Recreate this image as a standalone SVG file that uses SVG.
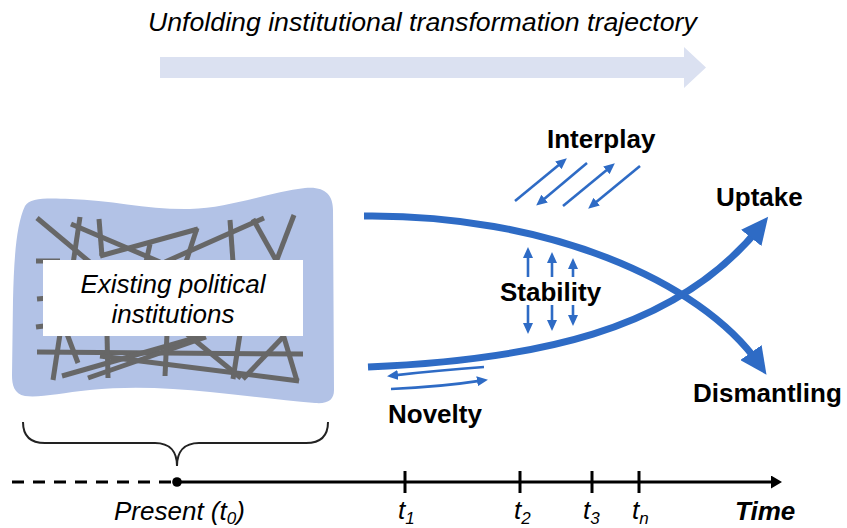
<svg xmlns="http://www.w3.org/2000/svg" width="847" height="528" viewBox="0 0 847 528">
  <style>
    .lbl { font-family: "Liberation Sans", Arial, sans-serif; font-size: 26px; fill: #000; }
    .b { font-weight: bold; }
    .i { font-style: italic; }
    .title { font-size: 26.7px; }
    .mesh line { stroke: #676767; stroke-width: 5; }
    .flow { fill: none; stroke: #2e6bc5; stroke-width: 7; }
    .small { fill: none; stroke: #2e6bc5; stroke-width: 2.6; }
    .axis { stroke: #000; stroke-width: 3; fill: none; }
  </style>
  <defs>
    <marker id="bigHead" markerUnits="userSpaceOnUse" markerWidth="28" markerHeight="26" refX="14" refY="13" orient="auto">
      <path d="M0,0 L27,13 L0,26 Z" fill="#2e6bc5"/>
    </marker>
    <marker id="smallHead" markerUnits="userSpaceOnUse" markerWidth="11" markerHeight="10" refX="6" refY="5" orient="auto">
      <path d="M0,0 L11,5 L0,10 Z" fill="#2e6bc5"/>
    </marker>
    <marker id="axisHead" markerUnits="userSpaceOnUse" markerWidth="11" markerHeight="13" refX="4" refY="6.5" orient="auto">
      <path d="M0,0 L11,6.5 L0,13 Z" fill="#000"/>
    </marker>
  </defs>

  <!-- trajectory banner -->
  <g id="trajectory">
    <text class="lbl i title" x="148" y="31">Unfolding institutional transformation trajectory</text>
    <polygon points="160,57 684,57 684,47 706,67.5 684,88 684,78 160,78" fill="#dbe1f1"/>
  </g>

  <!-- existing institutions cloud -->
  <g id="existing">
    <path d="M25,206 C30,198 45,198 70,199 C110,200 150,210 190,209 C230,208 270,192 305,188 C325,186 333,195 333,210 L334,390 C334,400 328,404 315,403 C285,401 250,396 210,392 C170,388 130,386 90,390 C60,393 40,398 25,396 C14,394 12,385 12,375 L13,300 C14,260 16,225 25,206 Z" fill="#b2c2e6"/>
    <g class="mesh">
      <line x1="37" y1="218" x2="92" y2="264"/>
      <line x1="80" y1="217" x2="73" y2="264"/>
      <line x1="71" y1="224" x2="160" y2="262"/>
      <line x1="99" y1="219" x2="102" y2="256"/>
      <line x1="100" y1="256" x2="198" y2="229"/>
      <line x1="197" y1="228" x2="186" y2="262"/>
      <line x1="150" y1="244" x2="146" y2="262"/>
      <line x1="165" y1="262" x2="264" y2="218"/>
      <line x1="230" y1="220" x2="233" y2="262"/>
      <line x1="253" y1="219" x2="277" y2="262"/>
      <line x1="294" y1="215" x2="276" y2="262"/>
      <line x1="36" y1="261" x2="60" y2="261"/>
      <line x1="37" y1="299" x2="60" y2="297"/>
      <line x1="36" y1="327" x2="60" y2="324"/>
      <line x1="37" y1="352" x2="303" y2="354"/>
      <line x1="60" y1="334" x2="53" y2="380"/>
      <line x1="67" y1="334" x2="78" y2="363"/>
      <line x1="107" y1="334" x2="108" y2="378"/>
      <line x1="62" y1="376" x2="202" y2="336"/>
      <line x1="88" y1="378" x2="206" y2="337"/>
      <line x1="100" y1="356" x2="299" y2="381"/>
      <line x1="167" y1="334" x2="165" y2="376"/>
      <line x1="187" y1="334" x2="241" y2="378"/>
      <line x1="240" y1="334" x2="233" y2="379"/>
      <line x1="243" y1="379" x2="284" y2="336"/>
      <line x1="283" y1="334" x2="297" y2="381"/>
    </g>
    <rect x="43" y="260" width="260" height="76" fill="#fff"/>
    <text class="lbl i" x="173" y="293" text-anchor="middle">Existing political</text>
    <text class="lbl i" x="173" y="323" text-anchor="middle">institutions</text>
  </g>

  <!-- connectors: pathways and dynamics -->
  <g id="connectors">
    <path class="flow" d="M364,216 C545,214 700,280 759,364" marker-end="url(#bigHead)"/>
    <path class="flow" d="M368,367 C530,360 675,333 760,227" marker-end="url(#bigHead)"/>

    <line class="small" x1="515" y1="201" x2="563" y2="161.5" marker-end="url(#smallHead)"/>
    <line class="small" x1="587" y1="163" x2="540" y2="202.4" marker-end="url(#smallHead)"/>
    <line class="small" x1="563" y1="206" x2="611" y2="166.5" marker-end="url(#smallHead)"/>
    <line class="small" x1="640" y1="166" x2="592" y2="205.5" marker-end="url(#smallHead)"/>

    <line class="small" x1="528" y1="277" x2="528" y2="252" marker-end="url(#smallHead)"/>
    <line class="small" x1="552" y1="277" x2="552" y2="257" marker-end="url(#smallHead)"/>
    <line class="small" x1="573" y1="277" x2="573" y2="263" marker-end="url(#smallHead)"/>
    <line class="small" x1="528" y1="305" x2="528" y2="329" marker-end="url(#smallHead)"/>
    <line class="small" x1="552" y1="305" x2="552" y2="326" marker-end="url(#smallHead)"/>
    <line class="small" x1="573" y1="305" x2="573" y2="321" marker-end="url(#smallHead)"/>

    <path class="small" d="M484,367 Q440,370 392,375.6" marker-end="url(#smallHead)"/>
    <path class="small" d="M391,389 Q440,387 483,380.4" marker-end="url(#smallHead)"/>
  </g>

  <!-- outcome and dynamic labels -->
  <g id="interplay"><text class="lbl b" x="547" y="148">Interplay</text></g>
  <g id="stability"><text class="lbl b" x="500" y="301">Stability</text></g>
  <g id="novelty"><text class="lbl b" x="388" y="423">Novelty</text></g>
  <g id="uptake"><text class="lbl b" x="716" y="206">Uptake</text></g>
  <g id="dismantling"><text class="lbl b" x="693" y="402">Dismantling</text></g>

  <!-- time axis -->
  <g id="timeline">
    <path d="M23,422 C23,436 30,443 45,443 L155,443 C170,443 177,452 177,466 C177,452 184,443 199,443 L306,443 C321,443 328,436 328,422" fill="none" stroke="#222" stroke-width="2"/>
    <line class="axis" x1="12" y1="482" x2="177" y2="482" stroke-dasharray="12,9"/>
    <line class="axis" x1="177" y1="482" x2="775" y2="482" marker-end="url(#axisHead)"/>
    <circle cx="177" cy="482" r="4.8" fill="#000"/>
    <g class="axis" stroke-width="2">
      <line x1="405" y1="471" x2="405" y2="493"/>
      <line x1="520" y1="471" x2="520" y2="493"/>
      <line x1="592" y1="471" x2="592" y2="493"/>
      <line x1="639" y1="471" x2="639" y2="493"/>
    </g>
    <text class="lbl i" x="114" y="520">Present (t<tspan font-size="17" dy="4">0</tspan><tspan dy="-4">)</tspan></text>
    <text class="lbl i" x="398" y="519">t<tspan font-size="17" dy="5">1</tspan></text>
    <text class="lbl i" x="514" y="519">t<tspan font-size="17" dy="5">2</tspan></text>
    <text class="lbl i" x="583" y="519">t<tspan font-size="17" dy="5">3</tspan></text>
    <text class="lbl i" x="632" y="519">t<tspan font-size="17" dy="5">n</tspan></text>
    <text class="lbl b i" x="735" y="520">Time</text>
  </g>
</svg>
